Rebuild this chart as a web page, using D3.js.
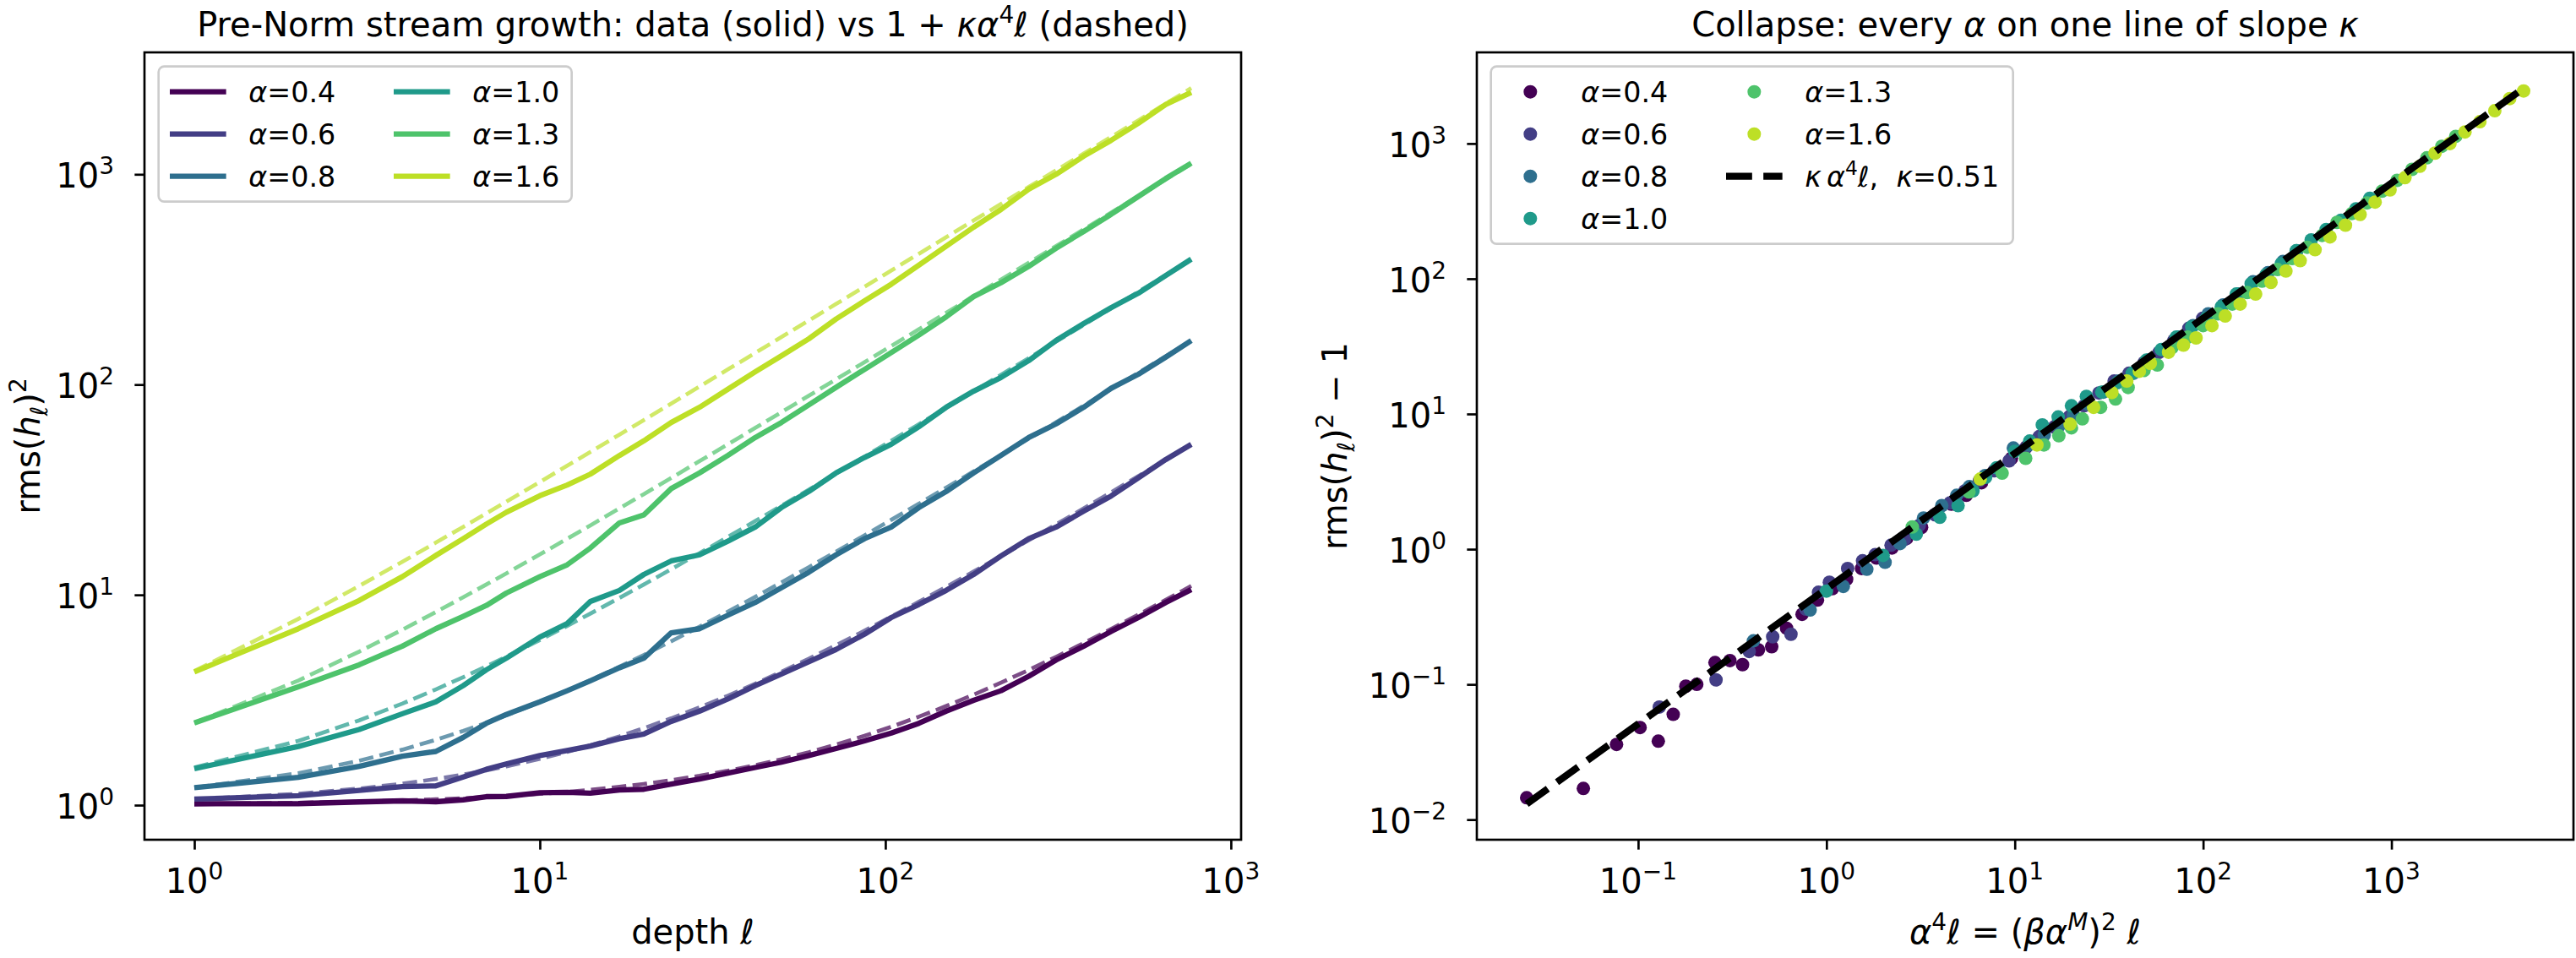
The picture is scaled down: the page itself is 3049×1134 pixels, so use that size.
<!DOCTYPE html>
<html>
<head>
<meta charset="utf-8">
<script src="https://cdn.jsdelivr.net/npm/d3@7"></script>
<style>
body { margin: 0; background: #fff; }
text { font-family: "DejaVu Sans", sans-serif; fill: #000; white-space: pre; }
</style>
</head>
<body>
<svg id="chart"></svg>
<script>
var W = 3049, H = 1134

// ---- data ----
var alphas = [0.4, 0.6, 0.8, 1.0, 1.3, 1.6]
var kappa = 0.51
var depths = [1,2,3,4,5,6,7,8,10,12,14,17,20,24,29,35,42,50,60,72,87,104,125,150,180,216,260,312,375,450,540,648,768]

// rms(h_l)^2 per alpha, one value per depth
var rmsA04 = [1.0145,1.017,1.036,1.048,1.038,1.06,1.097,1.10,1.145,1.15,1.14,1.18,1.19,1.26,1.33,1.42,1.51,1.60,1.72,1.86,2.02,2.2,2.45,2.8,3.15,3.5,4.1,4.9,5.7,6.7,7.8,9.2,10.6]
var rmsA06 = [1.068,1.108,1.175,1.225,1.235,1.36,1.48,1.57,1.72,1.82,1.91,2.07,2.18,2.5,2.8,3.2,3.7,4.2,4.8,5.5,6.5,7.8,9.0,10.5,12.5,15.3,18.5,21,25,29.5,36,44,52]
var rmsA08 = [1.21,1.355,1.53,1.71,1.8,2.1,2.45,2.7,3.1,3.5,3.9,4.5,5.0,6.6,6.9,8.0,9.2,10.8,12.8,15.5,18.5,21,26,31,38,46,56,65,78,96,112,135,162]
var rmsA10 = [1.49,1.9,2.29,2.72,3.1,3.7,4.4,5.0,6.3,7.3,9.3,10.5,12.5,14.5,15.5,18.0,21,26,31,38,45,52,63,78,93,108,130,162,195,232,272,330,395]
var rmsA13 = [2.46,3.65,4.65,5.7,6.9,7.9,8.9,10.2,12.2,13.9,16.7,22,24,32,38,46,56,66,80,97,118,142,172,210,262,305,365,445,535,645,785,955,1130]
var rmsA16 = [4.3,6.9,9.4,12.2,15.4,18.5,21.7,24.7,29.6,33.3,37.5,46,54,66,78,95,115,137,165,205,250,300,370,455,560,680,850,1000,1220,1450,1750,2150,2450]
var rmsSeries = [rmsA04, rmsA06, rmsA08, rmsA10, rmsA13, rmsA16]

var leftXTicks = [1, 10, 100, 1000]
var leftYTicks = [1, 10, 100, 1000]
var rightXTicks = [0.1, 1, 10, 100, 1000]
var rightYTicks = [0.01, 0.1, 1, 10, 100, 1000]

// ---- layout (px, figure drawn at 240 dpi) ----
var pt = 240 / 72
var fs = 10 * pt        // legend
var bigFs = 12 * pt     // ticks, axis labels, titles
var left = {x0: 171, x1: 1469, y0: 62, y1: 994}
var right = {x0: 1748, x1: 3046, y0: 62, y1: 994}

var colors = alphas.map(function(a, i) { return d3.interpolateViridis(i * 0.18) })

var svg = d3.select("#chart").attr("width", W).attr("height", H)
svg.append("rect").attr("width", W).attr("height", H).attr("fill", "#fff")

// text with italic / super / sub parts
var mtext = function(sel, parts, size) {
    var shift = 0
    parts.forEach(function(p) {
        var target = p.sup ? -0.4 * size : (p.sub ? 0.22 * size : 0)
        var ts = sel.append("tspan").text(p.t)
            .attr("dy", target - shift)
        if (p.sup || p.sub) ts.attr("font-size", size * 0.7)
        if (p.i) ts.attr("font-style", "italic")
        if (p.dx) ts.attr("dx", p.dx)
        shift = target
    })
    return sel
}

var powLabel = function(v) {
    var e = Math.round(Math.log10(v))
    return [{t: "10"}, {t: (e < 0 ? "\u2212" + (-e) : "" + e), sup: true}]
}

var logPad = function(lo, hi) {
    var a = Math.log10(lo), b = Math.log10(hi), m = (b - a) * 0.05
    return [Math.pow(10, a - m), Math.pow(10, b + m)]
}

var minorTicks = function(dom) {
    var out = []
    for (var e = Math.floor(Math.log10(dom[0])); e <= Math.ceil(Math.log10(dom[1])); e++) {
        for (var k = 2; k <= 9; k++) {
            var v = k * Math.pow(10, e)
            if (v >= dom[0] && v <= dom[1]) out.push(v)
        }
    }
    return out
}

var drawFrame = function(box, x, y, xt, yt) {
    var g = svg.append("g")
    var gx = g.append("g").attr("transform", "translate(0," + box.y1 + ")")
    gx.call(d3.axisBottom(x).tickValues(minorTicks(x.domain())).tickSize(2 * pt).tickFormat(""))
    gx.call(d3.axisBottom(x).tickValues(xt).tickSize(3.5 * pt).tickFormat(""))
    var gy = g.append("g").attr("transform", "translate(" + box.x0 + ",0)")
    gy.call(d3.axisLeft(y).tickValues(minorTicks(y.domain())).tickSize(2 * pt).tickFormat(""))
    gy.call(d3.axisLeft(y).tickValues(yt).tickSize(3.5 * pt).tickFormat(""))
    g.selectAll(".domain").remove()
    g.selectAll(".tick line").attr("stroke", "#000").attr("stroke-width", 0.8 * pt)

    xt.forEach(function(v) {
        mtext(g.append("text").attr("x", x(v)).attr("y", box.y1 + 63)
            .attr("text-anchor", "middle").attr("font-size", bigFs), powLabel(v), bigFs)
    })
    yt.forEach(function(v) {
        mtext(g.append("text").attr("x", box.x0 - 36).attr("y", y(v) + 0.4 * bigFs)
            .attr("text-anchor", "end").attr("font-size", bigFs), powLabel(v), bigFs)
    })
    g.append("rect").attr("x", box.x0).attr("y", box.y0)
        .attr("width", box.x1 - box.x0).attr("height", box.y1 - box.y0)
        .attr("fill", "none").attr("stroke", "#000").attr("stroke-width", 0.8 * pt)
}

var legendBox = function(box, w, rows) {
    var h = 0.8 * fs + rows * fs + (rows - 1) * 0.5 * fs
    svg.append("rect").attr("x", box.x0 + 0.5 * fs).attr("y", box.y0 + 0.5 * fs)
        .attr("width", w).attr("height", h).attr("rx", 0.2 * fs)
        .attr("fill", "#fff").attr("fill-opacity", 0.8)
        .attr("stroke", "#cccccc").attr("stroke-width", 0.8 * pt)
}

var solidW = 1.9 * pt, dashW = 1.4 * pt, fitW = 2.5 * pt

// ================= left panel =================
var allLeft = []
rmsSeries.forEach(function(s, i) {
    s.forEach(function(v, j) {
        allLeft.push(v)
        allLeft.push(1 + kappa * Math.pow(alphas[i], 4) * depths[j])
    })
})
var xL = d3.scaleLog().domain(logPad(depths[0], depths[depths.length - 1])).range([left.x0, left.x1])
var yL = d3.scaleLog().domain(logPad(d3.min(allLeft), d3.max(allLeft))).range([left.y1, left.y0])

svg.append("clipPath").attr("id", "clipL").append("rect")
    .attr("x", left.x0).attr("y", left.y0).attr("width", left.x1 - left.x0).attr("height", left.y1 - left.y0)
svg.append("clipPath").attr("id", "clipR").append("rect")
    .attr("x", right.x0).attr("y", right.y0).attr("width", right.x1 - right.x0).attr("height", right.y1 - right.y0)

var lineL = d3.line().x(function(d) { return xL(d[0]) }).y(function(d) { return yL(d[1]) })
var gL = svg.append("g").attr("clip-path", "url(#clipL)")

rmsSeries.forEach(function(s, i) {
    var pts = depths.map(function(l, j) { return [l, s[j]] })
    gL.append("path").datum(pts).attr("d", lineL)
        .attr("fill", "none").attr("stroke", colors[i]).attr("stroke-width", solidW)
        .attr("stroke-linejoin", "round")
    // model 1 + kappa alpha^4 l
    var model = depths.map(function(l) { return [l, 1 + kappa * Math.pow(alphas[i], 4) * l] })
    gL.append("path").datum(model).attr("d", lineL)
        .attr("fill", "none").attr("stroke", colors[i]).attr("stroke-opacity", 0.7)
        .attr("stroke-width", dashW).attr("stroke-dasharray", (3.7 * dashW) + "," + (1.6 * dashW))
})

drawFrame(left, xL, yL, leftXTicks, leftYTicks)

// left legend
legendBox(left, 489, 3)
alphas.forEach(function(a, i) {
    var col = Math.floor(i / 3), row = i % 3
    var hx = left.x0 + 0.5 * fs + 0.4 * fs + col * 265
    var cy = left.y0 + 0.5 * fs + 0.4 * fs + row * 1.5 * fs + 0.5 * fs
    svg.append("line").attr("x1", hx).attr("x2", hx + 2 * fs).attr("y1", cy).attr("y2", cy)
        .attr("stroke", colors[i]).attr("stroke-width", solidW)
    mtext(svg.append("text").attr("x", hx + 2.8 * fs).attr("y", cy + 0.36 * fs).attr("font-size", fs),
        [{t: "\u03b1", i: true}, {t: "=" + a.toFixed(1)}], fs)
})

// axis labels / title
mtext(svg.append("text").attr("x", (left.x0 + left.x1) / 2).attr("y", 1117)
    .attr("text-anchor", "middle").attr("font-size", bigFs), [{t: "depth "}, {t: "\u2113", i: true}], bigFs)
mtext(svg.append("text").attr("transform", "translate(47," + (left.y0 + left.y1) / 2 + ") rotate(-90)")
    .attr("text-anchor", "middle").attr("font-size", bigFs),
    [{t: "rms("}, {t: "h", i: true}, {t: "\u2113", i: true, sub: true}, {t: ")"}, {t: "2", sup: true}], bigFs)
mtext(svg.append("text").attr("x", (left.x0 + left.x1) / 2).attr("y", 43)
    .attr("text-anchor", "middle").attr("font-size", bigFs),
    [{t: "Pre-Norm stream growth: data (solid) vs 1 + "}, {t: "\u03ba\u03b1", i: true}, {t: "4", sup: true},
     {t: "\u2113", i: true}, {t: " (dashed)"}], bigFs)

// ================= right panel =================
var pts = []
rmsSeries.forEach(function(s, i) {
    s.forEach(function(v, j) {
        pts.push({i: i, x: Math.pow(alphas[i], 4) * depths[j], y: v - 1})
    })
})
var xMin = d3.min(pts, function(d) { return d.x }), xMax = d3.max(pts, function(d) { return d.x })
var fitLine = [[xMin, kappa * xMin], [xMax, kappa * xMax]]
var yAll = pts.map(function(d) { return d.y }).concat([fitLine[0][1], fitLine[1][1]])
var xR = d3.scaleLog().domain(logPad(xMin, xMax)).range([right.x0, right.x1])
var yR = d3.scaleLog().domain(logPad(d3.min(yAll), d3.max(yAll))).range([right.y1, right.y0])

var gR = svg.append("g").attr("clip-path", "url(#clipR)")
gR.selectAll("circle").data(pts).enter().append("circle")
    .attr("cx", function(d) { return xR(d.x) })
    .attr("cy", function(d) { return yR(d.y) })
    .attr("r", 8)
    .attr("fill", function(d) { return colors[d.i] })
gR.append("path").datum(fitLine)
    .attr("d", d3.line().x(function(d) { return xR(d[0]) }).y(function(d) { return yR(d[1]) }))
    .attr("fill", "none").attr("stroke", "#000").attr("stroke-width", fitW)
    .attr("stroke-dasharray", (3.7 * fitW) + "," + (1.6 * fitW))

drawFrame(right, xR, yR, rightXTicks, rightYTicks)

// right legend
legendBox(right, 618, 4)
var rightItems = alphas.map(function(a, i) { return {kind: "dot", i: i, label: [{t: "\u03b1", i: true}, {t: "=" + a.toFixed(1)}]} })
rightItems.push({kind: "dash", label: [{t: "\u03ba", i: true}, {t: "\u03b1", i: true, dx: 6}, {t: "4", sup: true},
    {t: "\u2113", i: true}, {t: ",\u00a0\u00a0"}, {t: "\u03ba", i: true}, {t: "=" + kappa.toFixed(2)}]})
rightItems.forEach(function(it, k) {
    var col = Math.floor(k / 4), row = k % 4
    var hx = right.x0 + 0.5 * fs + 0.4 * fs + col * 265
    var cy = right.y0 + 0.5 * fs + 0.4 * fs + row * 1.5 * fs + 0.5 * fs
    if (it.kind == "dot") {
        svg.append("circle").attr("cx", hx + fs).attr("cy", cy).attr("r", 8).attr("fill", colors[it.i])
    } else {
        svg.append("line").attr("x1", hx).attr("x2", hx + 2 * fs).attr("y1", cy).attr("y2", cy)
            .attr("stroke", "#000").attr("stroke-width", fitW)
            .attr("stroke-dasharray", (3.7 * fitW) + "," + (1.6 * fitW))
    }
    mtext(svg.append("text").attr("x", hx + 2.8 * fs).attr("y", cy + 0.36 * fs).attr("font-size", fs), it.label, fs)
})

mtext(svg.append("text").attr("x", (right.x0 + right.x1) / 2).attr("y", 1117)
    .attr("text-anchor", "middle").attr("font-size", bigFs),
    [{t: "\u03b1", i: true}, {t: "4", sup: true}, {t: "\u2113", i: true}, {t: " = ("}, {t: "\u03b2\u03b1", i: true},
     {t: "M", i: true, sup: true}, {t: ")"}, {t: "2", sup: true}, {t: " "}, {t: "\u2113", i: true}], bigFs)
mtext(svg.append("text").attr("transform", "translate(1594," + (right.y0 + right.y1) / 2 + ") rotate(-90)")
    .attr("text-anchor", "middle").attr("font-size", bigFs),
    [{t: "rms("}, {t: "h", i: true}, {t: "\u2113", i: true, sub: true}, {t: ")"}, {t: "2", sup: true}, {t: " \u2212 1"}], bigFs)
mtext(svg.append("text").attr("x", (right.x0 + right.x1) / 2).attr("y", 43)
    .attr("text-anchor", "middle").attr("font-size", bigFs),
    [{t: "Collapse: every "}, {t: "\u03b1", i: true}, {t: " on one line of slope "}, {t: "\u03ba", i: true}], bigFs)
</script>
</body>
</html>
